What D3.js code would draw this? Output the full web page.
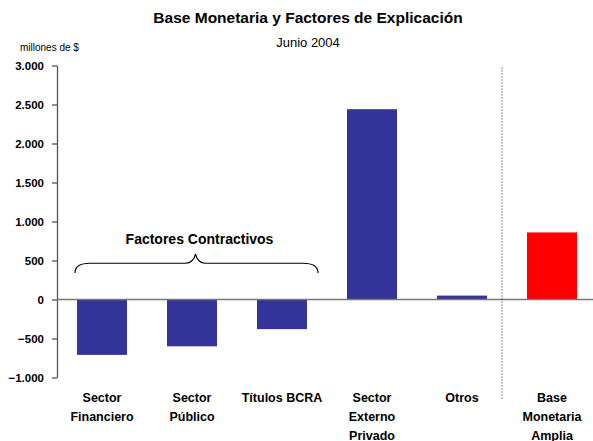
<!DOCTYPE html>
<html>
<head>
<meta charset="utf-8">
<script src="https://cdn.jsdelivr.net/npm/d3@7"></script>
<style>
  body { margin: 0; background: #fff; }
  svg { font-family: "Liberation Sans", Arial, sans-serif; }
  .tick text { font-weight: bold; font-size: 11.5px; fill: #000; }
  .cat { font-weight: bold; font-size: 12.5px; }
</style>
</head>
<body>
<svg width="593" height="441"></svg>
<script>
// data
const categories = ['Sector Financiero', 'Sector Público', 'Títulos BCRA', 'Sector Externo Privado', 'Otros', 'Base Monetaria Amplia'];
const catLines = [['Sector', 'Financiero'], ['Sector', 'Público'], ['Títulos BCRA'], ['Sector', 'Externo', 'Privado'], ['Otros'], ['Base', 'Monetaria', 'Amplia']];
const values = [-710, -600, -380, 2440, 50, 860];
const barColors = ['#333399', '#333399', '#333399', '#333399', '#333399', '#ff0000'];
const yTicks = [-1000, -500, 0, 500, 1000, 1500, 2000, 2500, 3000];

const svg = d3.select('svg');
const margin = {top: 65.5, left: 57, bottom: 63.5};
const height = 441 - margin.top - margin.bottom;

//Scales
const xScale = d3.scaleBand()
    .domain(categories)
    .range([margin.left, 597])
    .paddingInner(0.4444)
    .paddingOuter(0.2222);
const yScale = d3.scaleLinear()
    .domain([-1000, 3000])
    .range([margin.top + height, margin.top]);

//Titles
svg.append('text').attr('x', 308).attr('y', 23).attr('text-anchor', 'middle')
    .style('font-weight', 'bold').style('font-size', '15.5px')
    .text('Base Monetaria y Factores de Explicación');
svg.append('text').attr('x', 308).attr('y', 47).attr('text-anchor', 'middle')
    .style('font-size', '13px')
    .text('Junio 2004');
svg.append('text').attr('x', 20).attr('y', 51)
    .style('font-size', '10px')
    .text('millones de $');

//Y axis
const yAxis = d3.axisLeft(yScale)
    .tickValues(yTicks)
    .tickSize(5)
    .tickSizeOuter(0)
    .tickFormat(d => d3.format(',')(d).replace(/,/g, '.'));
const yAxisGroup = svg.append('g')
    .attr('transform', 'translate(' + margin.left + ',0)')
    .call(yAxis);
yAxisGroup.select('.domain').attr('stroke', '#555').attr('stroke-width', 1.3);
yAxisGroup.selectAll('.tick line').attr('stroke', '#555').attr('stroke-width', 1.3);
yAxisGroup.selectAll('.tick text').attr('x', -13);

//Bars
svg.selectAll('rect.bar')
    .data(values)
    .join('rect')
    .attr('class', 'bar')
    .attr('x', (d, i) => xScale(categories[i]))
    .attr('width', xScale.bandwidth())
    .attr('y', d => yScale(Math.max(0, d)))
    .attr('height', d => Math.abs(yScale(d) - yScale(0)))
    .attr('fill', (d, i) => barColors[i]);

//Zero line
svg.append('line')
    .attr('x1', margin.left).attr('x2', 593)
    .attr('y1', yScale(0)).attr('y2', yScale(0))
    .attr('stroke', '#777').attr('stroke-width', 1.5);

//Dotted separator
const sepX = xScale(categories[5]) - (xScale.step() - xScale.bandwidth()) / 2 - 5;
svg.append('line')
    .attr('x1', sepX).attr('x2', sepX)
    .attr('y1', yScale(3000) + 2).attr('y2', yScale(-1000) + 21)
    .attr('stroke', '#222').attr('stroke-width', 1)
    .attr('stroke-dasharray', '1,2');

//Category labels
const catGroups = svg.selectAll('text.cat')
    .data(catLines)
    .join('text')
    .attr('class', 'cat')
    .attr('text-anchor', 'middle')
    .attr('x', (d, i) => xScale(categories[i]) + xScale.bandwidth() / 2)
    .attr('y', yScale(-1000) + 24);
catGroups.selectAll('tspan')
    .data(d => d)
    .join('tspan')
    .attr('x', function() { return d3.select(this.parentNode).attr('x'); })
    .attr('dy', (d, i) => i === 0 ? 0 : 19)
    .text(d => d);

//Brace over contractive factors
const bx0 = xScale(categories[0]) - 2;
const bx1 = xScale(categories[2]) + xScale.bandwidth() + 11;
const bm = (bx0 + bx1) / 2 - 1;
const by = yScale(465);
const bEnd = yScale(340);
const bTip = yScale(585);
svg.append('path')
    .attr('d', 'M' + bx0 + ',' + bEnd + ' Q' + bx0 + ',' + by + ' ' + (bx0 + 15) + ',' + by +
        ' L' + (bm - 10) + ',' + by + ' Q' + (bm - 2) + ',' + by + ' ' + bm + ',' + bTip +
        ' Q' + (bm + 2) + ',' + by + ' ' + (bm + 10) + ',' + by +
        ' L' + (bx1 - 15) + ',' + by + ' Q' + bx1 + ',' + by + ' ' + bx1 + ',' + bEnd)
    .attr('fill', 'none').attr('stroke', '#000').attr('stroke-width', 1.2);
svg.append('text')
    .attr('x', bm + 4).attr('y', yScale(715))
    .attr('text-anchor', 'middle')
    .style('font-weight', 'bold').style('font-size', '14px')
    .text('Factores Contractivos');
</script>
</body>
</html>
